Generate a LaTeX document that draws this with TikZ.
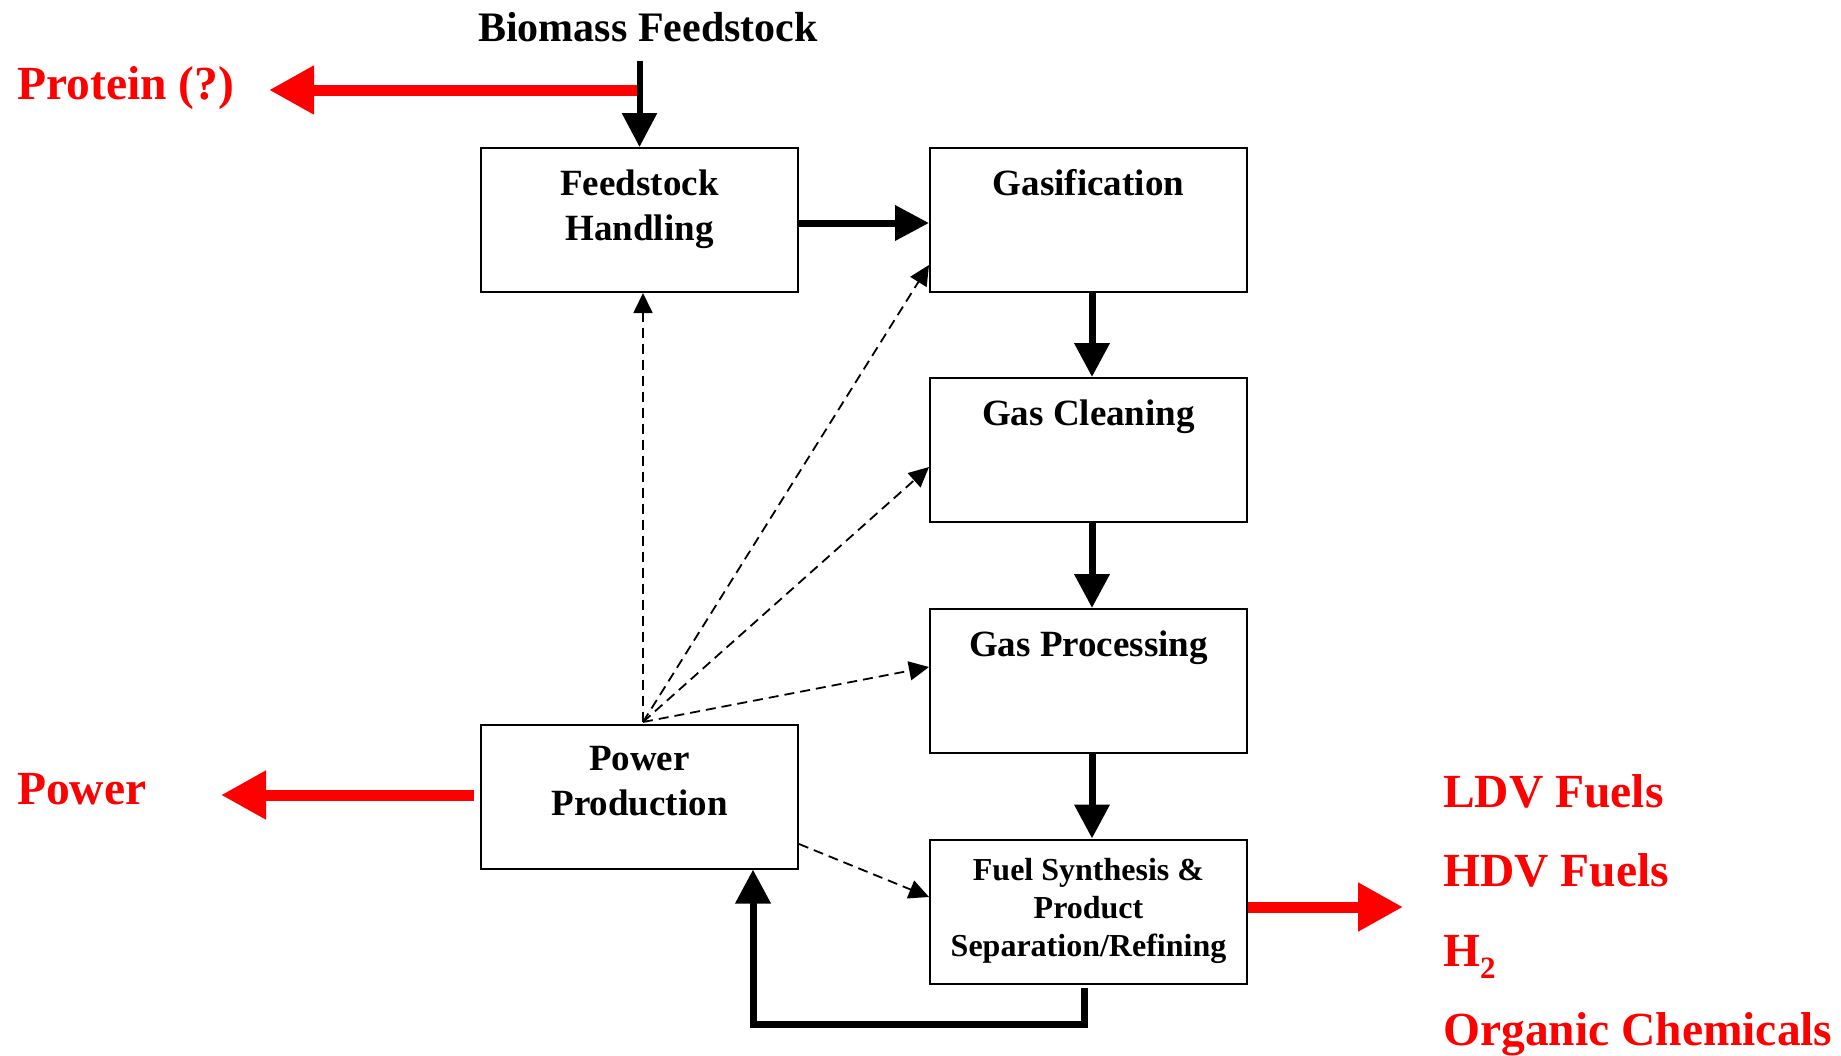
\documentclass[tikz,border=0pt]{standalone}
\usepackage{fontspec}
\setmainfont{Liberation Serif}
\usetikzlibrary{arrows.meta}
\newcommand\stk[1]{\begin{tabular}[t]{@{}c@{}}#1\end{tabular}}
\begin{document}
\begin{tikzpicture}[x=1pt,y=-1pt,
  box/.style={draw, line width=2pt, minimum width=317pt, minimum height=144pt, inner sep=0pt},
  lab/.style={font=\bfseries\fontsize{37}{45}\selectfont, anchor=base, inner sep=0pt},
  smalllab/.style={font=\bfseries\fontsize{32}{38}\selectfont, anchor=base, inner sep=0pt},
  redtxt/.style={font=\bfseries\fontsize{47.5}{57}\selectfont, text=red, anchor=base west, inner sep=0pt},
  thickarrow/.style={line width=7pt, line join=miter, -{Triangle[length=34pt,width=34pt]}},
  redarrow/.style={line width=11pt, red, -{Triangle[length=45pt,width=46pt]}},
  dasharrow/.style={line width=1.8pt, dash pattern=on 10pt off 6pt, -{Triangle[length=20pt,width=19pt]}}
]
\useasboundingbox (0,0) rectangle (1841,1055);

% boxes
\node[box] (fh) at (639.5,220) {};
\node[box] (ga) at (1088.5,220) {};
\node[box] (gc) at (1088.5,450) {};
\node[box] (gp) at (1088.5,681) {};
\node[box] (fs) at (1088.5,911.5) {};
\node[box] (pp) at (639.5,796.5) {};

% box labels
\node[lab] (fhT) at (639.5,195) {\stk{Feedstock\\Handling}};
\node[lab] (gaT) at (1088.5,195) {Gasification};
\node[lab] (gcT) at (1088.5,425) {Gas Cleaning};
\node[lab] (gpT) at (1088.5,656) {Gas Processing};
\node[lab] (ppT) at (639.5,770) {\stk{Power\\Production}};
\node[smalllab] (fsT) at (1088.5,880) {\stk{Fuel Synthesis \&\\Product\\Separation/Refining}};

% top text
\node[font=\bfseries\fontsize{42}{50}\selectfont, anchor=base, inner sep=0pt] (bio) at (648,41) {Biomass Feedstock};
\node[redtxt] (prot) at (17,99) {Protein (?)};
\node[redtxt] (pow) at (17,804) {Power};
\node[redtxt] (ldv) at (1443,807) {LDV Fuels};
\node[redtxt] (hdv) at (1443,886) {HDV Fuels};
\node[redtxt] (h2) at (1443,966) {H\raisebox{-12pt}{\fontsize{31}{31}\selectfont 2}};
\node[redtxt] (org) at (1443,1045) {Organic Chemicals};

% coordinates
\coordinate (bioS) at (639.5,61);
\coordinate (protS) at (639.5,90);
\coordinate (protT) at (269,90);
\coordinate (powT) at (221,795);
\coordinate (fuelT) at (1403,907);
\coordinate (hub) at (643,722);

% red arrows
\draw[redarrow] (protS) -- (protT);
\draw[redarrow] ([xshift=-6pt,yshift=1.5pt]pp.west) -- (powT);
\draw[redarrow] ([yshift=4.5pt]fs.east) -- (fuelT);

% thick black arrows
\draw[thickarrow, line width=6pt] (bioS) -- (fh.north);
\draw[thickarrow] ([yshift=-3pt]fh.east) -- ([yshift=-3pt]ga.west);
\draw[thickarrow] ([xshift=3.5pt]ga.south) -- ([xshift=3.5pt]gc.north);
\draw[thickarrow] ([xshift=3.5pt]gc.south) -- ([xshift=3.5pt]gp.north);
\draw[thickarrow] ([xshift=3.5pt]gp.south) -- ([xshift=3.5pt]fs.north);
\draw[thickarrow] ([xshift=-4.5pt,yshift=-3.5pt]fs.south) -- ([xshift=-4.5pt,yshift=-39.5pt]fs.south) -| ([xshift=113.5pt]pp.south);

% dashed arrows
\draw[dasharrow] (hub) -- (hub |- fh.south);
\draw[dasharrow] (hub) -- ([yshift=-45pt]ga.west);
\draw[dasharrow] (hub) -- ([yshift=-17pt]gc.west);
\draw[dasharrow] (hub) -- ([yshift=14pt]gp.west);
\draw[dasharrow] ([yshift=-47.5pt]pp.east) -- ([yshift=14.5pt]fs.west);
\end{tikzpicture}
\end{document}
